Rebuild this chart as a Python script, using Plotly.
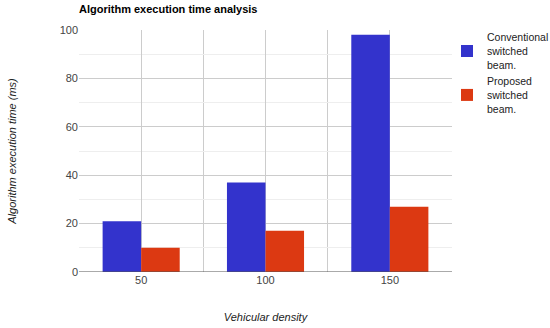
import plotly.graph_objects as go

categories = [50, 100, 150]
conventional = [21, 37, 98]
proposed = [10, 17, 27]
series_names = ["Conventional<br>switched<br>beam.", "Proposed<br>switched<br>beam."]

fig = go.Figure()
fig.add_trace(go.Bar(x=categories, y=conventional, name=series_names[0], marker_color="#3333CC", marker_line_width=0))
fig.add_trace(go.Bar(x=categories, y=proposed, name=series_names[1], marker_color="#DC3912", marker_line_width=0))

font = "Arial, Liberation Sans, sans-serif"
fig.update_layout(
    width=550, height=328,
    margin=dict(l=79, r=98, t=30, b=56, autoexpand=False),
    paper_bgcolor="white", plot_bgcolor="white",
    barmode="group", bargap=0.38, bargroupgap=0,
    font=dict(family=font, size=11, color="#444"),
    title=dict(text="<b>Algorithm execution time analysis</b>", x=79/550, xanchor="left", y=1-9/328, yanchor="middle",
               font=dict(size=11, color="#000", family=font)),
    xaxis=dict(range=[25, 175], tickvals=categories, ticktext=[str(c) for c in categories],
               showgrid=True, gridcolor="#ccc", gridwidth=1, zeroline=False, showline=False, ticks="",
               automargin=False,
               minor=dict(tickvals=[75, 125], showgrid=True, gridcolor="#ccc", ticks=""),
               title=dict(text="<i>Vehicular density</i>", font=dict(size=11, color="#222"), standoff=28),
               tickfont=dict(size=11, color="#444")),
    yaxis=dict(range=[0, 100], dtick=20, showgrid=True, gridcolor="#ccc", zeroline=False,
               showline=False, ticks="", ticklen=0, automargin=False,
               minor=dict(dtick=10, showgrid=True, gridcolor="#eee"),
               title=dict(text="<i>Algorithm execution time (ms)</i>", font=dict(size=11, color="#222"), standoff=40),
               tickfont=dict(size=11, color="#444")),
    legend=dict(xref="container", yref="container", x=447/550, y=1-24/328, xanchor="left", yanchor="top",
                font=dict(size=10.5, color="#222"),
                bgcolor="rgba(0,0,0,0)", tracegroupgap=6, itemwidth=30),
    showlegend=True,
)
fig.add_shape(type="line", xref="paper", yref="y", x0=0, x1=1, y0=0, y1=0, line=dict(color="#555", width=1))
fig.write_html("out.html", config={"displayModeBar": False}, post_script="document.body.style.margin='0';")
